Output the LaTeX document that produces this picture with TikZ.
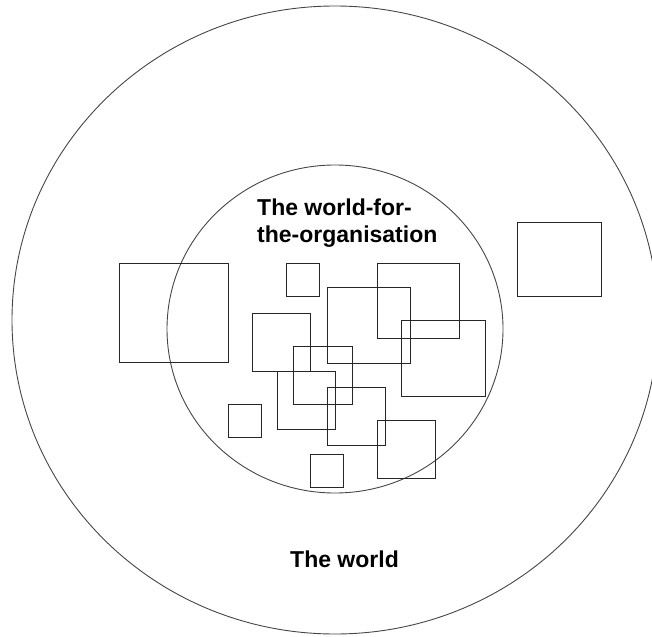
\documentclass[tikz,border=0pt]{standalone}
\usepackage{fontspec}
\setmainfont{Liberation Sans}
\usepackage{tikz}
\definecolor{rimgray}{RGB}{70,70,70}
\tikzset{rim/.style={draw=rimgray,line width=0.9pt},chunk/.style={draw=black!85,line width=0.9pt}, worldlabel/.style={inner sep=0pt,font=\fontsize{23}{27}\selectfont\bfseries,text=black}}

\begin{document}
\begin{tikzpicture}[x=1pt,y=-1pt]
\useasboundingbox (0,0) rectangle (652,636);
\draw[rim] (335,320) ellipse [x radius=323,y radius=314];
\draw[rim] (335,329) ellipse [x radius=168,y radius=164];
\foreach \xa/\ya/\xb/\yb in {119/263/228/362, 286/263/319/296, 377/263/459/338, 517/222/601/296,
 327/287/410/363, 252/313/310/371, 401/320/485/396, 293/346/352/404, 277/371/335/429,
 327/387/385/445, 228/404/261/437, 377/420/435/478, 310/454/343/487}
 \draw[chunk] (\xa,\ya) rectangle (\xb,\yb);
\node[worldlabel,align=left,anchor=north west] (orglabel) at (257,199) {The world-for-\\the-organisation};
\node[worldlabel,anchor=base] (worldname) at (344.5,567) {The world};
\end{tikzpicture}
\end{document}
